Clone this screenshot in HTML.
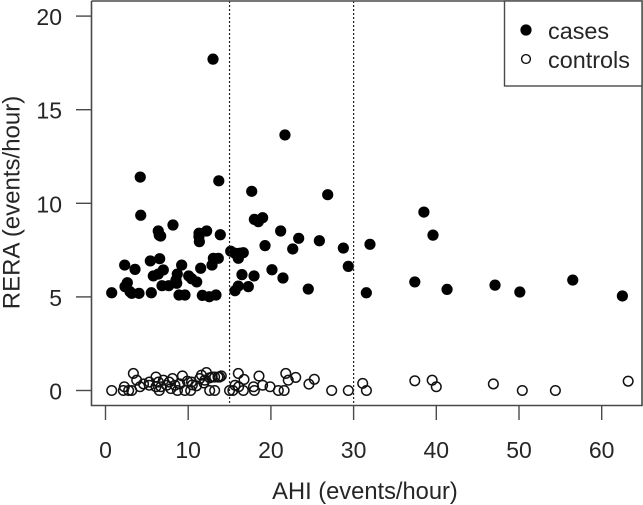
<!DOCTYPE html>
<html><head><meta charset="utf-8"><style>
html,body{margin:0;padding:0;background:#fff;width:643px;height:505px;overflow:hidden}
svg{display:block}
text{font-family:"Liberation Sans",sans-serif;fill:#262626}
</style></head><body>
<svg id="chart" width="643" height="505" viewBox="0 0 643 505" xmlns="http://www.w3.org/2000/svg">
<rect x="0" y="0" width="643" height="505" fill="#fff"/>
<g id="controls-layer"></g>
<g id="cases-layer"></g>
<g id="refs-layer"></g>
<g id="axes-layer"></g>
<path d="M91.5 1V405.5H642V1H91.5" fill="none" stroke="#4a4a4a" stroke-width="1.6"/>
<text x="365" y="499" font-size="23.7" text-anchor="middle">AHI (events/hour)</text>
<text transform="translate(19.5,202.5) rotate(-90)" font-size="24" text-anchor="middle">RERA (events/hour)</text>
<g>
<rect x="504.5" y="1" width="137.5" height="85" fill="#fff" stroke="#4a4a4a" stroke-width="1.4"/>
<circle cx="526" cy="30" r="5.6" fill="#000"/>
<circle cx="526" cy="59" r="4.4" fill="#fff" stroke="#000" stroke-width="1.3"/>
<text x="548" y="39" font-size="23.4">cases</text>
<text x="548" y="68" font-size="23.4">controls</text>
</g>
</svg>
<script>
const casesAHI = [4.26,8.16,6.38,6.67,6.5,11.31,12.23,13.88,11.3,11.35,2.32,3.57,5.42,6.55,9.21,11.51,12.88,13.04,13.64,6.99,6.38,5.78,8.68,8.52,10.06,10.42,11.03,2.64,2.36,2.96,4.05,3.17,5.54,6.83,7.64,8.61,0.75,8.89,9.61,11.71,12.55,13.36,13,4.2,13.7,21.7,17.68,26.87,18,18.48,19,21.18,23.36,25.86,22.64,19.29,28.76,31.98,15.14,15.66,16.26,16.66,16.06,29.36,20.13,16.5,17.96,21.46,17.27,16.06,15.66,24.52,31.54,37.4,38.5,39.6,41.3,47.1,50.1,56.5,62.5];
const casesRERA = [9.36,8.84,8.52,8.25,8.3,8.4,8.52,8.32,8.22,7.95,6.7,6.47,6.92,7.04,6.7,6.53,6.7,7.06,7.06,6.44,6.22,6.12,6.22,5.9,6.12,5.97,5.8,5.76,5.55,5.28,5.19,5.19,5.22,5.6,5.6,5.73,5.22,5.1,5.1,5.08,5.01,5.1,17.7,11.4,11.2,13.65,10.64,10.46,9.14,9.02,9.23,8.52,8.13,8,7.56,7.74,7.61,7.81,7.44,7.33,7.33,7.36,7.06,6.63,6.45,6.19,6.12,6.01,5.55,5.58,5.33,5.42,5.22,5.8,9.53,8.3,5.4,5.63,5.26,5.9,5.05];
const controlsAHI = [0.75,2.16,2.28,3.17,3.37,2.8,3.77,4.17,5.3,6.1,5.3,6.4,6.5,6.1,6.7,7.4,8.1,7.7,8.7,8.4,9.3,9.6,10.3,10.5,10.4,11.6,11.4,12.2,12,12.6,13.2,13.6,14,12.6,13.2,4.6,7,7.9,9,9.9,11,11.9,12.9,13.8,15,16.06,15.66,15.4,16.75,16.1,16.67,17.9,18,18.56,19,19.9,20.9,21.6,21.8,22.1,23,24.6,25.25,27.35,29.36,31.1,31.55,37.4,39.5,40,46.9,50.4,54.4,63.2];
const controlsRERA = [0,0,0.2,0,0.91,0,0.55,0.2,0.28,0.72,0.45,0.45,0,0.2,0.2,0.28,0.64,0.45,0,0.28,0.78,0,0,0.3,0.45,0.82,0.64,0.96,0.55,0.68,0.72,0.72,0.78,0,0,0.35,0.55,0.1,0.35,0.5,0.25,0.4,0.72,0.72,0,0.91,0.28,0,0.59,0.2,0,0.2,0,0.77,0.28,0.2,0,0,0.91,0.55,0.7,0.34,0.6,0,0,0.38,0,0.52,0.55,0.2,0.35,0,0,0.5];
const xTicks = [0,10,20,30,40,50,60];
const yTicks = [0,5,10,15,20];
const refLines = [15,30];
const NS = 'http://www.w3.org/2000/svg';
function xScale(v){return 105.5 + v * 8.27;}
function yScale(v){return 390.5 - v * 18.72;}
function mk(tag, parent, attrs){
  const el = document.createElementNS(NS, tag);
  for (const k in attrs) el.setAttribute(k, attrs[k]);
  parent.appendChild(el);
  return el;
}
const controlsLayer = document.getElementById('controls-layer');
controlsAHI.forEach(function(v, i){
  const el = mk('circle', controlsLayer, {cx:xScale(v), cy:yScale(controlsRERA[i]), r:4.8, fill:'none', stroke:'#111', 'stroke-width':1.5});
  
  
});
const casesLayer = document.getElementById('cases-layer');
casesAHI.forEach(function(v, i){
  const el = mk('circle', casesLayer, {cx:xScale(v), cy:yScale(casesRERA[i]), r:5.6, fill:'#000'});
  
  
});
const refsLayer = document.getElementById('refs-layer');
refLines.forEach(function(v){
  const el = mk('line', refsLayer, {x1:xScale(v), x2:xScale(v), y1:1, y2:405, stroke:'#222', 'stroke-width':1.2, 'stroke-dasharray':'2 2'});
  
  
});
const axesLayer = document.getElementById('axes-layer');
xTicks.forEach(function(v){
  const tick = mk('line', axesLayer, {x1:xScale(v), x2:xScale(v), y1:405, y2:420, stroke:'#4a4a4a', 'stroke-width':1.4});
  
  
  const label = mk('text', axesLayer, {x:xScale(v), y:458, 'font-size':23, 'text-anchor':'middle'});
  
  
  label.textContent = v;
});
yTicks.forEach(function(v){
  const tick = mk('line', axesLayer, {x1:76, x2:91, y1:yScale(v), y2:yScale(v), stroke:'#4a4a4a', 'stroke-width':1.4});
  
  
  const label = mk('text', axesLayer, {x:62, y:yScale(v) + 9, 'font-size':23, 'text-anchor':'end'});
  
  
  label.textContent = v;
});
</script>
</body></html>
